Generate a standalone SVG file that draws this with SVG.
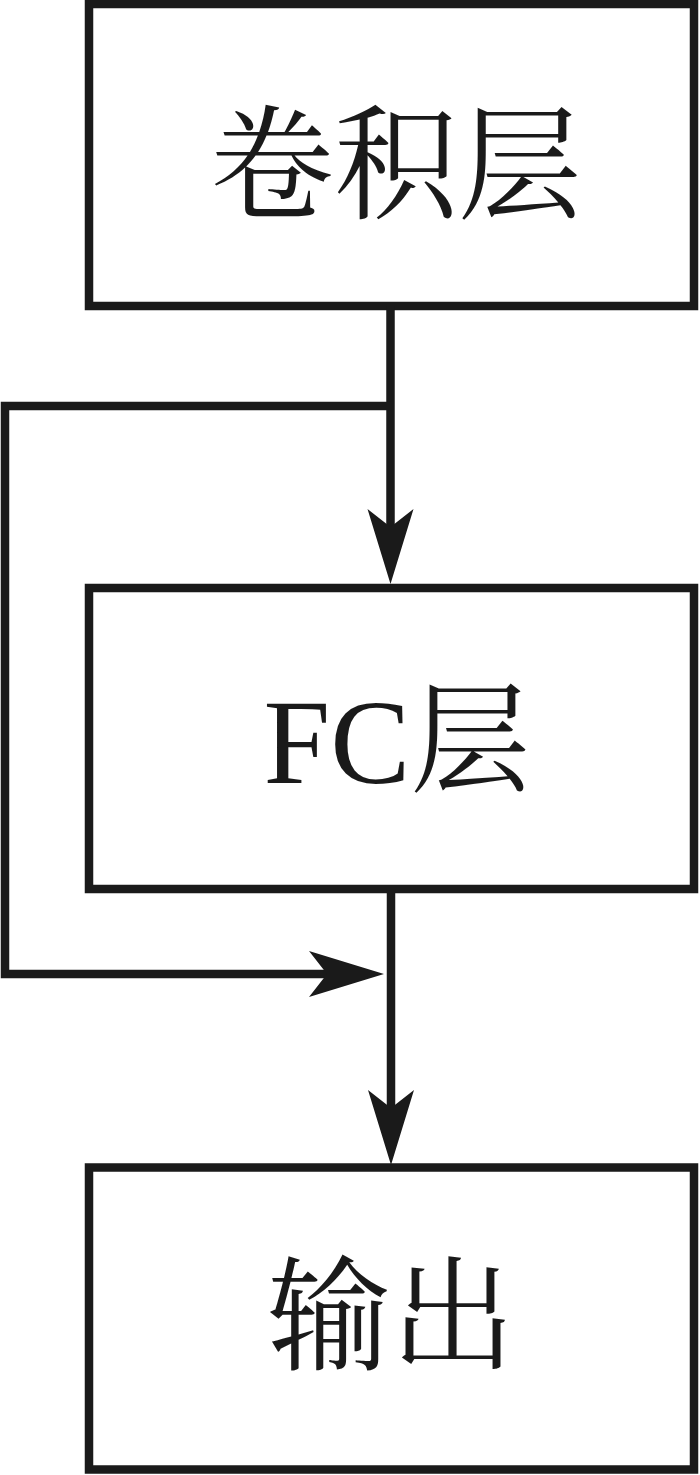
<svg xmlns="http://www.w3.org/2000/svg" width="700" height="1475" viewBox="0 0 700 1475">
<style>
.box{fill:#fff;stroke:#1a1a1a;stroke-width:8.5}
.lbl{font-family:"Liberation Serif","Noto Serif CJK SC","Noto Sans CJK SC",serif;font-size:120px;fill:#1a1a1a;text-anchor:middle}
.big{font-size:124px}
.conn{fill:none;stroke:#1a1a1a;stroke-width:8.5;stroke-linejoin:miter}
</style>
<defs>
<marker id="arr" markerUnits="userSpaceOnUse" markerWidth="80" markerHeight="52" viewBox="0 0 80 52" refX="20" refY="26" orient="auto">
<path d="M2,3 L77,26 L2,49 L20,26 Z" fill="#1a1a1a"/>
</marker>
</defs>
<rect width="700" height="1475" fill="#fff"/>
<g id="conv">
<rect class="box" x="89" y="4" width="605" height="302"/>
<text class="lbl big" x="396" y="209">卷积层</text>
</g>
<g id="fc">
<rect class="box" x="89" y="588" width="605" height="301"/>
<text class="lbl" x="397" y="783">FC层</text>
</g>
<g id="out">
<rect class="box" x="89" y="1167.5" width="605" height="302"/>
<text class="lbl big" x="391" y="1360">输出</text>
</g>
<g id="connectors">
<path class="conn" d="M390.5,306 V527" marker-end="url(#arr)"/>
<path class="conn" d="M390.5,406 H5 V974 H327" marker-end="url(#arr)"/>
<path class="conn" d="M391,889 V1108" marker-end="url(#arr)"/>
</g>
</svg>
